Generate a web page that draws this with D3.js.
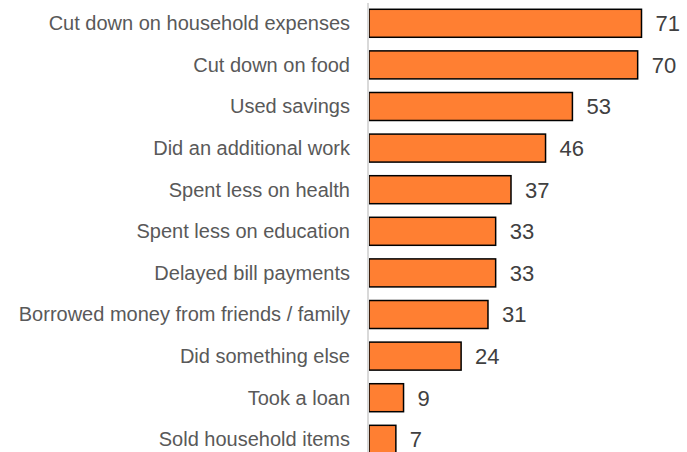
<!DOCTYPE html>
<html>
<head>
<meta charset="utf-8">
<script src="https://cdn.jsdelivr.net/npm/d3@7"></script>
<style>
  html, body { margin: 0; padding: 0; background: #fff; }
  svg { display: block; }
</style>
</head>
<body>
<svg id="chart" width="687" height="452"></svg>
<script>
// Coping strategies, share of respondents (%)
const categories = [
  "Cut down on household expenses",
  "Cut down on food",
  "Used savings",
  "Did an additional work",
  "Spent less on health",
  "Spent less on education",
  "Delayed bill payments",
  "Borrowed money from friends / family",
  "Did something else",
  "Took a loan",
  "Sold household items"
];
const values = [71, 70, 53, 46, 37, 33, 33, 31, 24, 9, 7];

const svg = d3.select("#chart");
const x0 = 369;
const x = d3.scaleLinear().domain([0, 71]).range([x0, 641.5]);
const y = d3.scaleBand()
  .domain(categories)
  .range([2.5, 2.5 + 41.6 * categories.length])
  .paddingInner(0.327)
  .paddingOuter(0.163);

// Bars
svg.append("g").selectAll("rect")
  .data(values)
  .join("rect")
  .attr("x", x(0))
  .attr("y", (d, i) => y(categories[i]))
  .attr("width", d => x(d) - x(0))
  .attr("height", y.bandwidth())
  .attr("fill", "#FF7F32")
  .attr("stroke", "#000")
  .attr("stroke-width", 1.5);

// Vertical baseline
svg.append("line")
  .attr("x1", x0 - 1).attr("x2", x0 - 1)
  .attr("y1", 3).attr("y2", 452)
  .attr("stroke", "#d9d9d9")
  .attr("stroke-width", 2);

// Category labels
const yAxis = d3.axisLeft(y).tickSize(0).tickPadding(19);
const ag = svg.append("g").attr("transform", `translate(${x0},0)`).call(yAxis);
ag.select(".domain").remove();
ag.selectAll("text")
  .attr("fill", "#595959")
  .attr("dy", "0.34em")
  .style("font-family", "'Liberation Sans', Arial, sans-serif")
  .style("font-size", "20px");

// Value labels
svg.append("g").selectAll("text")
  .data(values)
  .join("text")
  .attr("x", d => x(d) + 14)
  .attr("y", (d, i) => y(categories[i]) + y.bandwidth() / 2)
  .attr("dy", "0.36em")
  .attr("fill", "#404040")
  .style("font-family", "'Liberation Sans', Arial, sans-serif")
  .style("font-size", "22px")
  .text(d => d);
</script>
</body>
</html>
